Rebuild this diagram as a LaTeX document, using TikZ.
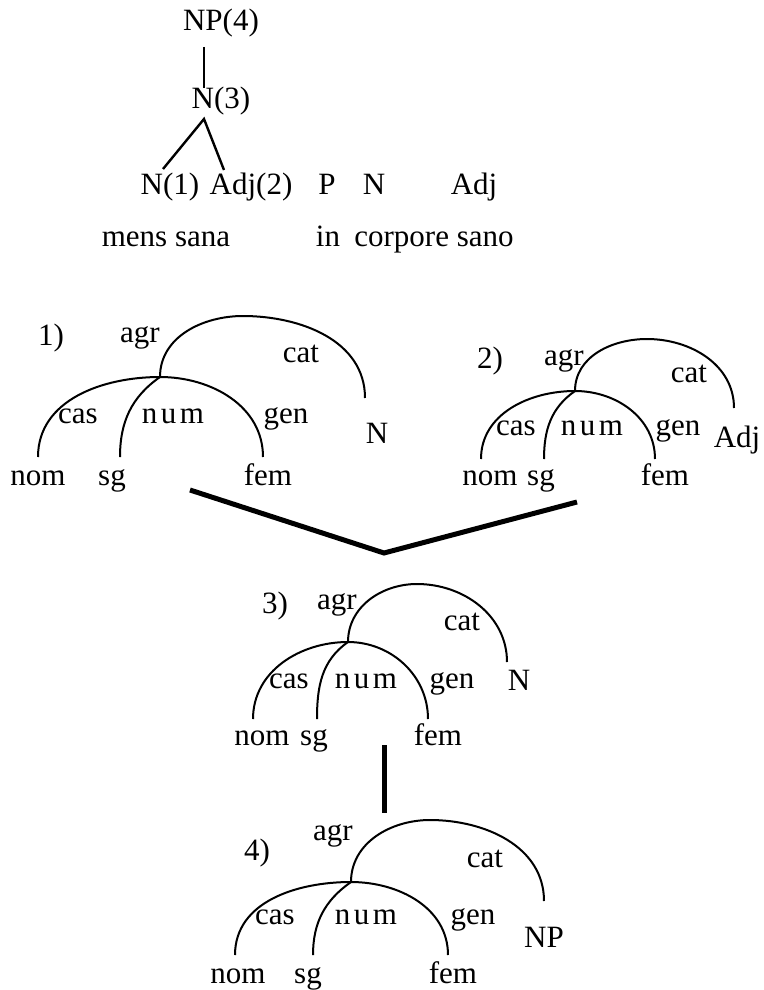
\documentclass[tikz,border=0pt]{standalone}
\usepackage{fontspec}
\setmainfont{Liberation Serif}
\usepackage{tikz}

\tikzset{
	lbl/.style={anchor=base, inner sep=0pt, font=\fontsize{31}{36}\selectfont},
	treeline/.style={line width=2.4pt},
	fs/.style={line width=2pt},
	thickbar/.style={line width=5pt}
}
\def\spc#1{\kern#1pt\relax}

\begin{document}
\begin{tikzpicture}[x=1pt, y=-1pt]
			%%%%% START %%%%%
			\useasboundingbox (0, 0) rectangle (763, 990);
			
			% phrase tree
			\node[lbl] (np4) at (221, 31) {NP(4)};
			\node[lbl] (n3) at (221, 108) {N(3)};
			\node[lbl] (n1) at (170, 194) {N(1)};
			\node[lbl] (adj2) at (251, 194) {Adj(2)};
			\node[lbl] (prep) at (327, 194) {P};
			\node[lbl] (noun) at (374, 194) {N};
			\node[lbl] (adj) at (474, 194) {Adj};
			\node[lbl] (mens) at (166, 246) {mens sana};
			\node[lbl] (in) at (328, 246) {in};
			\node[lbl] (corpore) at (434, 246) {corpore sano};
			
			\coordinate (np4bot) at (204, 47);
			\coordinate (n3top) at (204, 88);
			\coordinate (n3bot) at (204, 119);
			\coordinate (n1top) at (163, 169);
			\coordinate (adj2top) at (224, 170);
			\draw[treeline] (np4bot) -- (n3top);
			\draw[treeline] (n1top) -- (n3bot) -- (adj2top);
			
			% 1) mens
			\node[lbl] (k1) at (51, 345) {1)};
			\node[lbl] (agrA) at (140, 342) {agr};
			\node[lbl] (catA) at (301, 362) {cat};
			\node[lbl] (casA) at (78, 423) {cas};
			\node[lbl] (numA) at (173, 423) {n\spc{3.5}u\spc{3.5}m};
			\node[lbl] (genA) at (286, 423) {gen};
			\node[lbl] (valA) at (377, 443) {N};
			\node[lbl] (nomA) at (38, 485) {nom};
			\node[lbl] (sgA) at (112, 485) {sg};
			\node[lbl] (femA) at (268, 485) {fem};
			
			\coordinate (A) at (160, 377);
			\coordinate (Atop) at (243, 316);
			\coordinate (Acat) at (365, 398);
			\coordinate (Acas) at (38, 457);
			\coordinate (Anum) at (120, 457);
			\coordinate (Agen) at (263, 457);
			\draw[fs] (A) to[out=90, in=180] (Atop) to[out=0, in=90] (Acat);
			\draw[fs] (Acas) to[out=90, in=180] (A) to[out=0, in=90] (Agen);
			\draw[fs] (A) to[out=215, in=90] (Anum);
			
			% 2) sana
			\node[lbl] (k2) at (490, 368) {2)};
			\node[lbl] (agrB) at (564, 365) {agr};
			\node[lbl] (catB) at (689, 382) {cat};
			\node[lbl] (casB) at (516, 435) {cas};
			\node[lbl] (numB) at (592, 435) {n\spc{3.5}u\spc{3.5}m};
			\node[lbl] (genB) at (678, 435) {gen};
			\node[lbl] (valB) at (737, 447) {Adj};
			\node[lbl] (nomB) at (490, 485) {nom};
			\node[lbl] (sgB) at (541, 485) {sg};
			\node[lbl] (femB) at (665, 485) {fem};
			
			\coordinate (B) at (575, 391);
			\coordinate (Btop) at (647, 339);
			\coordinate (Bcat) at (734, 408);
			\coordinate (Bcas) at (481, 459);
			\coordinate (Bnum) at (544, 459);
			\coordinate (Bgen) at (655, 459);
			\draw[fs] (B) to[out=90, in=180] (Btop) to[out=0, in=90] (Bcat);
			\draw[fs] (Bcas) to[out=90, in=180] (B) to[out=0, in=90] (Bgen);
			\draw[fs] (B) to[out=215, in=90] (Bnum);
			
			% unification
			\coordinate (uL) at (190, 490);
			\coordinate (uM) at (384, 553);
			\coordinate (uR) at (577, 502);
			\draw[thickbar] (uL) -- (uM) -- (uR);
			
			% 3) N(3)
			\node[lbl] (k3) at (275, 613) {3)};
			\node[lbl] (agrC) at (337, 609) {agr};
			\node[lbl] (catC) at (462, 630) {cat};
			\node[lbl] (casC) at (289, 688) {cas};
			\node[lbl] (numC) at (366, 688) {n\spc{3.5}u\spc{3.5}m};
			\node[lbl] (genC) at (452, 688) {gen};
			\node[lbl] (valC) at (519, 690) {N};
			\node[lbl] (nomC) at (262, 745) {nom};
			\node[lbl] (sgC) at (314, 745) {sg};
			\node[lbl] (femC) at (438, 745) {fem};
			
			\coordinate (C) at (348, 642);
			\coordinate (Ctop) at (417, 584);
			\coordinate (Ccat) at (507, 662);
			\coordinate (Ccas) at (253, 719);
			\coordinate (Cnum) at (317, 719);
			\coordinate (Cgen) at (428, 719);
			\draw[fs] (C) to[out=90, in=180] (Ctop) to[out=0, in=90] (Ccat);
			\draw[fs] (Ccas) to[out=90, in=180] (C) to[out=0, in=90] (Cgen);
			\draw[fs] (C) to[out=215, in=90] (Cnum);
			
			\coordinate (pTop) at (384, 745);
			\coordinate (pBot) at (384, 813);
			\draw[thickbar] (pTop) -- (pBot);
			
			% 4) NP(4)
			\node[lbl] (k4) at (257, 860) {4)};
			\node[lbl] (agrD) at (333, 840) {agr};
			\node[lbl] (catD) at (485, 867) {cat};
			\node[lbl] (casD) at (275, 924) {cas};
			\node[lbl] (numD) at (366, 924) {n\spc{3.5}u\spc{3.5}m};
			\node[lbl] (genD) at (473, 924) {gen};
			\node[lbl] (valD) at (544, 947) {NP};
			\node[lbl] (nomD) at (238, 983) {nom};
			\node[lbl] (sgD) at (308, 983) {sg};
			\node[lbl] (femD) at (453, 983) {fem};
			
			\coordinate (D) at (351, 882);
			\coordinate (Dtop) at (430, 820);
			\coordinate (Dcat) at (544, 901);
			\coordinate (Dcas) at (235, 955);
			\coordinate (Dnum) at (313, 955);
			\coordinate (Dgen) at (448, 955);
			\draw[fs] (D) to[out=90, in=180] (Dtop) to[out=0, in=90] (Dcat);
			\draw[fs] (Dcas) to[out=90, in=180] (D) to[out=0, in=90] (Dgen);
			\draw[fs] (D) to[out=215, in=90] (Dnum);
			
			%%%%% END %%%%%
		\end{tikzpicture}
\end{document}
